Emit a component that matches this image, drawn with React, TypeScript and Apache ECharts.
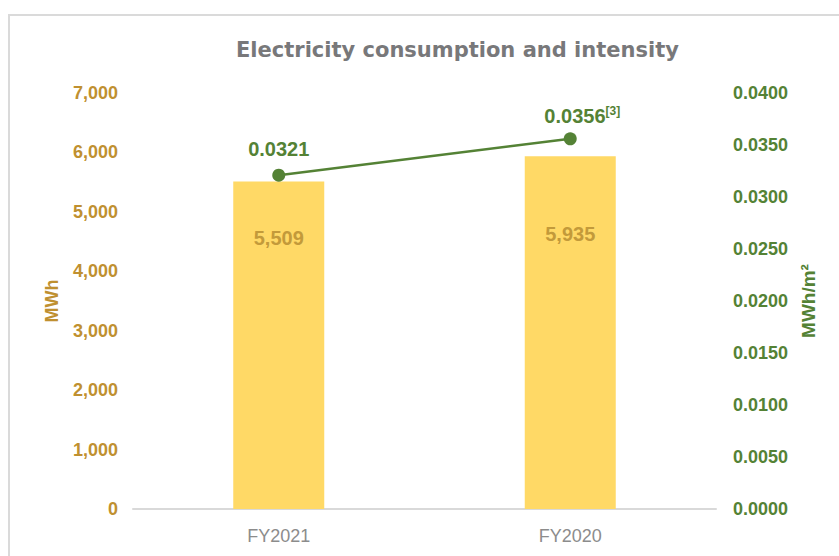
import React, { useEffect, useRef } from "react";
import * as echarts from "echarts";

const categories = ["FY2021", "FY2020"];
const consumption = [5509, 5935];
const intensity = [0.0321, 0.0356];
const intensityNotes = ["", "[3]"];
const leftTicks = { min: 0, max: 7000, interval: 1000 };
const rightTicks = { min: 0, max: 0.04, interval: 0.005 };

const GOLD = "#BF9030";
const GREEN = "#548235";

export default function App() {
  const ref = useRef<HTMLDivElement>(null);
  useEffect(() => {
    if (!ref.current) return;
    const chart = echarts.init(ref.current, null, { renderer: "svg" });
    const barLabelDistance = [46, 68];
    const lineLabelStyle = [
      { distance: 9, offset: [0, 0] },
      { distance: 5, offset: [12, 0] },
    ];
    chart.setOption({
      animation: false,
      backgroundColor: "#ffffff",
      textStyle: { fontFamily: "Liberation Sans, Arial, sans-serif" },
      graphic: [
        {
          type: "rect",
          shape: { x: 9, y: 15, width: 840, height: 560 },
          style: { fill: "none", stroke: "#dadada", lineWidth: 2 },
          silent: true,
        },
      ],
      title: {
        text: "Electricity consumption and intensity",
        left: 231,
        top: 34,
        textStyle: {
          fontFamily: "DejaVu Sans, sans-serif",
          fontSize: 21,
          fontWeight: "bold",
          color: "#78787a",
        },
      },
      grid: { left: 133, right: 123, top: 93, bottom: 47 },
      xAxis: {
        type: "category",
        data: categories,
        axisLine: { lineStyle: { color: "#d9d9d9", width: 2 } },
        axisTick: { show: false },
        axisLabel: { color: "#8c8c8c", fontSize: 18, margin: 18 },
      },
      yAxis: [
        {
          type: "value",
          ...leftTicks,
          name: "MWh",
          nameLocation: "middle",
          nameRotate: 90,
          nameGap: 72,
          nameTextStyle: { color: GOLD, fontSize: 18, fontWeight: "bold" },
          splitLine: { show: false },
          axisLine: { show: false },
          axisTick: { show: false },
          axisLabel: {
            color: GOLD,
            fontSize: 18,
            fontWeight: "bold",
            margin: 15,
            formatter: (v: number) => v.toLocaleString("en-US"),
          },
        },
        {
          type: "value",
          ...rightTicks,
          name: "MWh/m²",
          nameLocation: "middle",
          nameRotate: 90,
          nameGap: 82,
          nameTextStyle: { color: GREEN, fontSize: 19, fontWeight: "bold" },
          splitLine: { show: false },
          axisLine: { show: false },
          axisTick: { show: false },
          axisLabel: {
            color: GREEN,
            fontSize: 18,
            fontWeight: "bold",
            margin: 17,
            formatter: (v: number) => v.toFixed(4),
          },
        },
      ],
      series: [
        {
          type: "bar",
          yAxisIndex: 0,
          barWidth: 91,
          itemStyle: { color: "#FFD966" },
          data: consumption.map((v, i) => ({
            value: v,
            label: {
              show: true,
              position: "insideTop",
              distance: barLabelDistance[i],
              color: "#C39A3A",
              fontSize: 20,
              fontWeight: "bold",
              formatter: (p: any) => Number(p.value).toLocaleString("en-US"),
            },
          })),
        },
        {
          type: "line",
          yAxisIndex: 1,
          symbol: "circle",
          symbolSize: 13,
          itemStyle: { color: GREEN },
          lineStyle: { color: GREEN, width: 2.5 },
          data: intensity.map((v, i) => ({
            value: v,
            label: {
              show: true,
              position: "top",
              distance: lineLabelStyle[i].distance,
              offset: lineLabelStyle[i].offset,
              formatter: () =>
                "{a|" + v.toFixed(4) + "}" + (intensityNotes[i] ? "{s|" + intensityNotes[i] + "}" : ""),
              rich: {
                a: { color: GREEN, fontSize: 20, fontWeight: "bold", lineHeight: 22 },
                s: {
                  color: GREEN,
                  fontSize: 12,
                  fontWeight: "bold",
                  verticalAlign: "top",
                  lineHeight: 22,
                },
              },
            },
          })),
        },
      ],
    });
    return () => chart.dispose();
  }, []);
  return (
    <div
      ref={ref}
      style={{ position: "fixed", left: 0, top: 0, width: 839, height: 556 }}
    />
  );
}
